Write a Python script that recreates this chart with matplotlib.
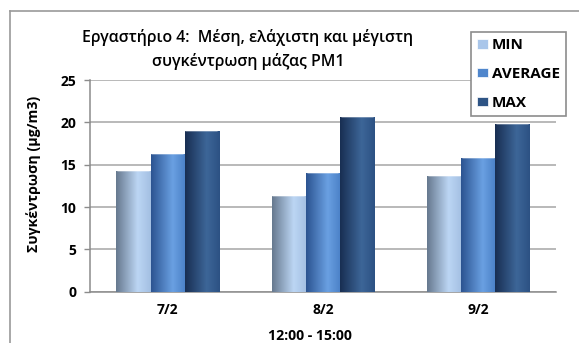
import numpy as np
import matplotlib
matplotlib.use("Agg")
import matplotlib.pyplot as plt
from matplotlib.colors import LinearSegmentedColormap
from matplotlib.patches import Patch
from matplotlib.lines import Line2D

plt.rcParams['font.family'] = ['Open Sans', 'DejaVu Sans']

# Data: PM1 mass concentration per day (12:00 - 15:00)
days = ["7/2", "8/2", "9/2"]
series_names = ["MIN", "AVERAGE", "MAX"]
min_vals = [14.2, 11.3, 13.7]
avg_vals = [16.3, 14.0, 15.8]
max_vals = [19.0, 20.6, 19.8]
y_ticks = [0, 5, 10, 15, 20, 25]

# Cylinder-style shading per series: (left edge, highlight, right edge)
shades = [
    ("#66788e", "#bcd6f4", "#a3bfe2"),
    ("#2b5390", "#6aa0e2", "#4a80c6"),
    ("#182e52", "#3d6698", "#2c5183"),
]
legend_colors = ["#a9c6ea", "#4f86cc", "#2e5485"]

W, H = 579, 343
fig = plt.figure(figsize=(W / 100, H / 100), dpi=100)

def fx(px):
    return px / W

def fy(py):
    return 1 - py / H

ax = fig.add_axes([fx(90), fy(291.7), fx(556) - fx(90), fy(80) - fy(291.7)])

x = np.arange(len(days))
bw = 0.22
offsets = [-bw, 0, bw]
grad = np.linspace(0, 1, 256).reshape(1, -1)

for vals, off, sh in zip([min_vals, avg_vals, max_vals], offsets, shades):
    cmap = LinearSegmentedColormap.from_list("cyl", [(0, sh[0]), (0.62, sh[1]), (1, sh[2])])
    bars = ax.bar(x + off, vals, width=bw, color=sh[1], edgecolor="none", zorder=2)
    for b in bars:
        x0, y0, w, h = b.get_x(), b.get_y(), b.get_width(), b.get_height()
        im = ax.imshow(grad, cmap=cmap, extent=(x0, x0 + w, y0, y0 + h),
                       aspect="auto", zorder=3, interpolation="bilinear")
        im.set_clip_path(b)
        b.set_alpha(0)
        # soft cap at the top of the cylinder
        ax.plot([x0 + w * 0.05, x0 + w * 0.95], [h, h], color="white", alpha=0.35,
                lw=1.2, zorder=4, solid_capstyle="round")

ax.set_xlim(-0.5, 2.5)
ax.set_ylim(0, 25)
ax.set_yticks(y_ticks)
ax.set_yticklabels([str(t) for t in y_ticks], fontsize=10, fontweight="bold")
ax.set_xticks(x)
ax.set_xticklabels(days, fontsize=10, fontweight="bold")
ax.tick_params(axis="y", length=4, width=1, color="#8c8c8c", pad=6)
ax.tick_params(axis="x", length=0, pad=8)
ax.yaxis.grid(True, color="#a6a6a6", lw=1.1, zorder=0)
ax.set_axisbelow(True)
for s in ["top", "right"]:
    ax.spines[s].set_visible(False)
ax.spines["left"].set_color("#8c8c8c")
ax.spines["bottom"].set_color("#8c8c8c")
ax.spines["left"].set_linewidth(1.1)
ax.spines["bottom"].set_linewidth(1.1)

fig.text(fx(34), fy(174), "Συγκέντρωση (μg/m3)", rotation=90, ha="center", va="center",
         fontsize=10.2, fontweight="bold")
fig.text(fx(310), fy(336), "12:00 - 15:00", ha="center", va="center",
         fontsize=10.2, fontweight="bold")
fig.text(fx(248), fy(38), "Εργαστήριο 4:  Μέση, ελάχιστη και μέγιστη", ha="center",
         va="center", fontsize=11.4, fontweight="semibold")
fig.text(fx(248), fy(61), "συγκέντρωση μάζας PM1", ha="center", va="center",
         fontsize=11.4, fontweight="semibold")

# Chart frame
fig.add_artist(Line2D([fx(10), fx(10)], [fy(11), fy(343)], color="#9a9a9a", lw=1.2))
fig.add_artist(Line2D([fx(10), fx(579)], [fy(11), fy(11)], color="#9a9a9a", lw=1.2))

handles = [Patch(facecolor=c, edgecolor="white", lw=0.5) for c in legend_colors]
leg = fig.legend(handles, series_names, loc="center left",
                 bbox_to_anchor=(fx(471), fy(120), fx(566) - fx(471), fy(28) - fy(120)),
                 mode="expand", fancybox=False, framealpha=1, edgecolor="#8c8c8c",
                 prop={"weight": "bold", "size": 11}, handlelength=0.7, handleheight=0.55,
                 handletextpad=0.25, labelspacing=0.95, borderpad=0.4, borderaxespad=0)
leg.get_frame().set_linewidth(1.2)

fig.savefig("out.png", dpi=100)
